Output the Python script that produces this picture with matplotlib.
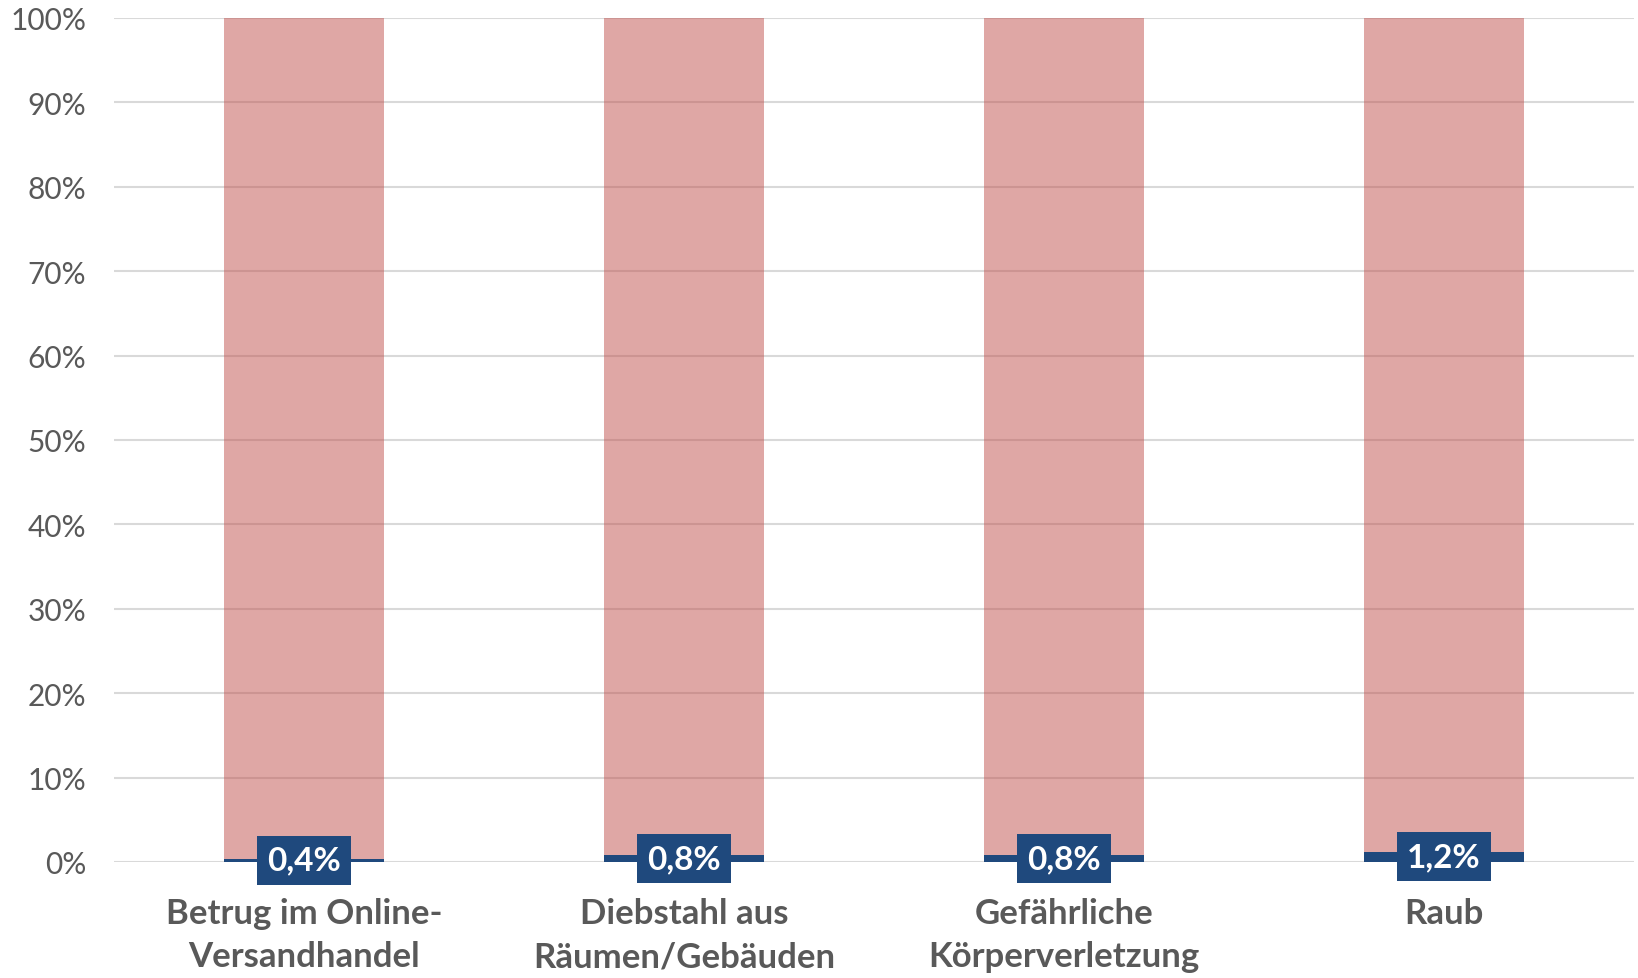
import matplotlib
matplotlib.use("Agg")
import matplotlib.pyplot as plt
import numpy as np

# data
categories = ["Betrug im Online-\nVersandhandel", "Diebstahl aus\nRäumen/Gebäuden",
              "Gefährliche\nKörperverletzung", "Raub"]
share = [0.4, 0.8, 0.8, 1.2]
rest = [100 - v for v in share]
value_labels = ["0,4%", "0,8%", "0,8%", "1,2%"]
yticks = list(range(0, 101, 10))

plt.rcParams['font.family'] = ['Lato', 'DejaVu Sans']

fig = plt.figure(figsize=(16.38, 9.79), dpi=100)
ax = fig.add_axes([114 / 1638, 1 - 863 / 979, 1520 / 1638, 844 / 979])

x = np.arange(len(categories))
ax.bar(x, share, width=0.42, color="#1F497D", zorder=2)
ax.bar(x, rest, bottom=share, width=0.42, color="#C0504D", alpha=0.5, zorder=2)

for i in range(len(x)):
    ax.text(x[i], share[i] / 2, value_labels[i], ha="center", va="center",
            color="white", fontsize=24, fontweight="bold", zorder=4,
            bbox=dict(boxstyle="square,pad=0.3", fc="#1F497D", ec="none"))

ax.set_xlim(-0.5, len(categories) - 0.5)
ax.set_ylim(0, 100)
ax.set_yticks(yticks)
ax.set_yticklabels([str(t) + "%" for t in yticks])
ax.set_xticks(x)
ax.set_xticklabels(categories, fontsize=25, fontweight="bold", color="#595959",
                   linespacing=1.45)
ax.tick_params(axis="x", length=0, pad=25)
ax.tick_params(axis="y", length=0, pad=20, labelsize=21.5, labelcolor="#595959")
ax.yaxis.grid(True, color="#D9D9D9", linewidth=1.5)
ax.set_axisbelow(True)
for s in ax.spines.values():
    s.set_visible(False)

fig.savefig("out.png", dpi=100)
